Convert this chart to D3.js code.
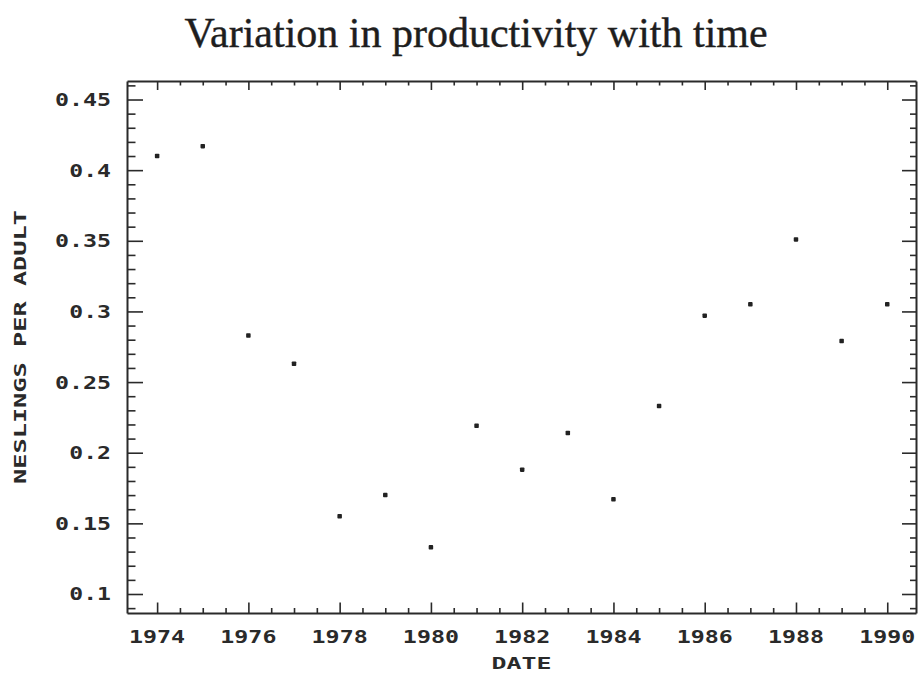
<!DOCTYPE html>
<html>
<head>
<meta charset="utf-8">
<script src="https://cdn.jsdelivr.net/npm/d3@7/dist/d3.min.js"></script>
<style>
  html, body { margin: 0; padding: 0; background: #fff; }
  svg { display: block; }
</style>
</head>
<body>
<svg id="chart" width="919" height="676"></svg>
<script>
// Nestling productivity by year
const years = [1974, 1975, 1976, 1977, 1978, 1979, 1980, 1981, 1982, 1983, 1984, 1985, 1986, 1987, 1988, 1989, 1990];
const productivity = [0.410, 0.417, 0.283, 0.263, 0.155, 0.170, 0.133, 0.219, 0.188, 0.214, 0.167, 0.233, 0.297, 0.305, 0.351, 0.279, 0.305];

const xTickValues = [1974, 1976, 1978, 1980, 1982, 1984, 1986, 1988, 1990];
const yTickValues = [0.1, 0.15, 0.2, 0.25, 0.3, 0.35, 0.4, 0.45];
const yTickLabels = ["0.1", "0.15", "0.2", "0.25", "0.3", "0.35", "0.4", "0.45"];

const titleText = "Variation in productivity with time";
const xLabel = "DATE";
const yLabel = "NESLINGS PER ADULT";

const W = 919, H = 676;
const plot = { left: 127, right: 916, top: 81, bottom: 613 };
const ink = "#2a2a2a";
const monoFont = "'DejaVu Sans Mono', 'Liberation Mono', monospace";

const svg = d3.select("#chart");

const x = d3.scaleLinear().domain([1973.34, 1990.63]).range([plot.left, plot.right]);
const y = d3.scaleLinear().domain([0.08655, 0.4631]).range([plot.bottom, plot.top]);

const xMinor = d3.range(1974, 1990.01, 0.5).filter(v => !xTickValues.includes(v));
const yMinor = d3.range(9, 47).map(v => v / 100).filter(v => !yTickValues.some(t => Math.abs(t - v) < 1e-9));

// Title
svg.append("text")
  .attr("x", 476).attr("y", 47)
  .attr("text-anchor", "middle")
  .attr("font-family", "'Liberation Serif', 'Times New Roman', serif")
  .attr("font-size", 42)
  .attr("fill", "#1e1e1e")
  .attr("stroke", "#1e1e1e")
  .attr("stroke-width", 0.4)
  .text(titleText);

// Helper: an axis with inward-pointing ticks and no labels
function tickAxis(axisFn, scale, values, size) {
  return axisFn(scale).tickValues(values).tickSize(size).tickFormat("");
}
function styleAxis(g) {
  g.selectAll("path.domain").attr("stroke", ink).attr("stroke-width", 2);
  g.selectAll(".tick line").attr("stroke", ink).attr("stroke-width", 1.6);
}

// Bottom axis (ticks point up into the plot)
const gBottom = svg.append("g").attr("transform", `translate(0,${plot.bottom})`);
gBottom.call(tickAxis(d3.axisTop, x, xTickValues, 10.5).tickSizeOuter(0));
gBottom.append("g").call(tickAxis(d3.axisTop, x, xMinor, 5).tickSizeOuter(0)).select("path.domain").remove();
styleAxis(gBottom);

// Top axis (ticks point down)
const gTop = svg.append("g").attr("transform", `translate(0,${plot.top})`);
gTop.call(tickAxis(d3.axisBottom, x, xTickValues, 9).tickSizeOuter(0));
gTop.append("g").call(tickAxis(d3.axisBottom, x, xMinor, 4.5).tickSizeOuter(0)).select("path.domain").remove();
styleAxis(gTop);

// Left axis (ticks point right)
const gLeft = svg.append("g").attr("transform", `translate(${plot.left},0)`);
gLeft.call(tickAxis(d3.axisRight, y, yTickValues, 16).tickSizeOuter(0));
gLeft.append("g").call(tickAxis(d3.axisRight, y, yMinor, 8.5).tickSizeOuter(0)).select("path.domain").remove();
styleAxis(gLeft);

// Right axis (ticks point left)
const gRight = svg.append("g").attr("transform", `translate(${plot.right},0)`);
gRight.call(tickAxis(d3.axisLeft, y, yTickValues, 14).tickSizeOuter(0));
gRight.append("g").call(tickAxis(d3.axisLeft, y, yMinor, 6).tickSizeOuter(0)).select("path.domain").remove();
styleAxis(gRight);

// Wide plotter-style tick labels
const charW = 14.4;
svg.append("g").selectAll("text")
  .data(xTickValues)
  .join("text")
  .attr("x", d => x(d))
  .attr("y", 643)
  .attr("text-anchor", "middle")
  .attr("font-family", monoFont)
  .attr("font-weight", "bold")
  .attr("font-size", 18)
  .attr("fill", ink)
  .attr("textLength", d => String(d).length * charW - 1.5)
  .attr("lengthAdjust", "spacingAndGlyphs")
  .text(d => d);

svg.append("g").selectAll("text")
  .data(yTickValues)
  .join("text")
  .attr("x", 111)
  .attr("y", d => y(d) + 6.5)
  .attr("text-anchor", "end")
  .attr("font-family", monoFont)
  .attr("font-weight", "bold")
  .attr("font-size", 18)
  .attr("fill", ink)
  .attr("textLength", (d, i) => yTickLabels[i].length * charW - 1.5)
  .attr("lengthAdjust", "spacingAndGlyphs")
  .text((d, i) => yTickLabels[i]);

// Axis titles
svg.append("text")
  .attr("x", (plot.left + plot.right) / 2)
  .attr("y", 669)
  .attr("text-anchor", "middle")
  .attr("font-family", monoFont)
  .attr("font-weight", "bold")
  .attr("font-size", 16.5)
  .attr("fill", ink)
  .attr("textLength", 60)
  .attr("lengthAdjust", "spacingAndGlyphs")
  .text(xLabel);

svg.append("text")
  .attr("transform", `translate(26,${(plot.top + plot.bottom) / 2}) rotate(-90)`)
  .attr("text-anchor", "middle")
  .attr("font-family", monoFont)
  .attr("font-weight", "bold")
  .attr("font-size", 16.5)
  .attr("fill", ink)
  .attr("textLength", 274)
  .attr("lengthAdjust", "spacingAndGlyphs")
  .text(yLabel);

// Data points: small filled squares
const s = 4.5;
svg.append("g").selectAll("rect")
  .data(years.map((yr, i) => ({ yr, v: productivity[i] })))
  .join("rect")
  .attr("x", d => x(d.yr) - s / 2)
  .attr("y", d => y(d.v) - s / 2)
  .attr("width", s)
  .attr("height", s)
  .attr("rx", 0.8)
  .attr("fill", "#222");
</script>
</body>
</html>
